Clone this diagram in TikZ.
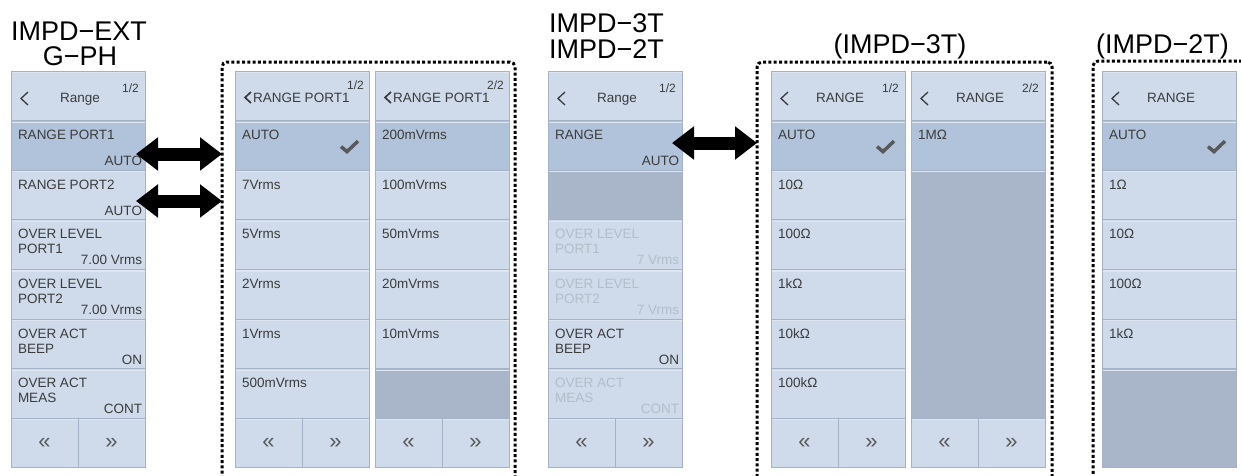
\documentclass[tikz,border=0pt]{standalone}
\usepackage{fontspec}
\setmainfont{Liberation Sans}
\usetikzlibrary{arrows.meta}
\definecolor{pl}{HTML}{CFDBEA}
\definecolor{ph}{HTML}{B1C3DA}
\definecolor{pd}{HTML}{A9B6CA}
\definecolor{pb}{HTML}{A3B2C6}
\definecolor{tx}{HTML}{3C3C3C}
\definecolor{tg}{HTML}{B3BDCA}
\definecolor{hl}{HTML}{DDE6F1}
\tikzset{
  rowbox/.style={draw=pb, line width=1pt, fill=pl, anchor=north west, minimum width=134pt, minimum height=49.6pt, inner sep=0pt, outer sep=0pt,
    path picture={\draw[hl, line width=1.2pt] ([yshift=-1.6pt]path picture bounding box.north west) -- ([yshift=-1.6pt]path picture bounding box.north east);}},
  hil/.style={fill=ph},
  drk/.style={fill=pd},
  btn/.style={rowbox, minimum width=67pt},
  lbl/.style={inner sep=0pt, outer sep=0pt, text=tx, font=\fontsize{13.5}{15}\selectfont},
  gry/.style={text=tg},
  pg/.style={inner sep=0pt, text=tx, font=\fontsize{12}{13}\selectfont, anchor=base east},
  big/.style={inner sep=0pt, text=black, font=\fontsize{27}{30}\selectfont},
  dotbox/.style={draw=black, line width=3pt, dash pattern=on 3pt off 2.3pt, rounded corners=5pt, anchor=north west, inner sep=0pt, outer sep=0pt},
  bigarrow/.style={line width=13pt, {Triangle[length=22pt,width=32pt]}-{Triangle[length=22pt,width=32pt]}},
  chev/.style={draw=tx, line width=1.3pt},
  chk/.style={draw=tx!85, line width=3.5pt},
  bt/.style={inner sep=0pt, text=tx!85, font=\fontsize{22}{24}\selectfont},
}
% row node: name, x, index, style
\newcommand\prow[4]{\node[rowbox,#4] (#1) at (#2,{71+49.6*#3}) {};}
\newcommand\plab[3][]{\node[lbl,anchor=base west,#1] at ([shift={(7,19)}]#2.north west) {#3};}
\newcommand\plabb[3][]{\node[lbl,anchor=base west,#1] at ([shift={(7,34)}]#2.north west) {#3};}
\newcommand\pval[3][]{\node[lbl,anchor=base east,#1] at ([shift={(-3,-4.5)}]#2.south east) {#3};}
\newcommand\pchk[1]{\draw[chk] ([shift={(-28,26)}]#1.north east) -- ([shift={(-22,31)}]#1.north east) -- ([shift={(-11,20.5)}]#1.north east);}
% header: name, x, title, page
\newcommand\phead[4]{%
  \node[rowbox] (#1) at (#2,71) {};
  \draw[chev] ([shift={(17,21)}]#1.north west) -- ([shift={(10,27.5)}]#1.north west) -- ([shift={(17,34)}]#1.north west);
  \node[lbl,anchor=base] at ([shift={(2,31)}]#1.north) {#3};
  \node[pg] at ([shift={(-6,21)}]#1.north east) {#4};}
% header of the RANGE PORT1 list: name, x, page
\newcommand\pheadb[3]{%
  \node[rowbox] (#1) at (#2,71) {};
  \draw[chev, line width=1.7pt] ([shift={(16,21)}]#1.north west) -- ([shift={(10,26.5)}]#1.north west) -- ([shift={(16,32)}]#1.north west);
  \node[lbl,anchor=base west] at ([shift={(18,31)}]#1.north west) {RANGE PORT1};
  \node[pg] at ([shift={(-5,18)}]#1.north east) {#3};}
% buttons: name, x
\newcommand\pbtn[2]{%
  \node[btn] (#1l) at (#2,{71+49.6*7}) {};
  \node[btn] (#1r) at (#2+67,{71+49.6*7}) {};
  \node[bt] at (#1l.center) {«};
  \node[bt] at (#1r.center) {»};}

\begin{document}
\begin{tikzpicture}[x=1pt,y=-1pt]
\useasboundingbox (0,0) rectangle (1241,475);
\clip (0,0) rectangle (1241,475);

% titles
\node[big, anchor=base] (t1) at (79,40) {IMPD−EXT};
\node[big, anchor=base] (t1b) at (80,65) {G−PH};
\node[big, anchor=base west] (t2) at (549,32) {IMPD−3T};
\node[big, anchor=base west] (t2b) at (549,58) {IMPD−2T};
\node[big, anchor=base] (t3) at (900,53) {(IMPD−3T)};
\node[big, anchor=base] (t4) at (1162.5,53) {(IMPD−2T)};

% dotted groups
\node[dotbox, minimum width=293pt, minimum height=430pt] (g1) at (222,62) {};
\node[dotbox, minimum width=295pt, minimum height=430pt] (g2) at (757,62) {};
\node[dotbox, minimum width=170pt, minimum height=430pt] (g3) at (1093,61) {};

% panel 1
\phead{p1h}{11}{Range}{1/2}
\prow{p1r1}{11}{1}{hil} \plab{p1r1}{RANGE PORT1} \pval{p1r1}{AUTO}
\prow{p1r2}{11}{2}{} \plab{p1r2}{RANGE PORT2} \pval{p1r2}{AUTO}
\prow{p1r3}{11}{3}{} \plab{p1r3}{OVER LEVEL} \plabb{p1r3}{PORT1} \pval{p1r3}{7.00 Vrms}
\prow{p1r4}{11}{4}{} \plab{p1r4}{OVER LEVEL} \plabb{p1r4}{PORT2} \pval{p1r4}{7.00 Vrms}
\prow{p1r5}{11}{5}{} \plab{p1r5}{OVER ACT} \plabb{p1r5}{BEEP} \pval{p1r5}{ON}
\prow{p1r6}{11}{6}{} \plab{p1r6}{OVER ACT} \plabb{p1r6}{MEAS} \pval{p1r6}{CONT}
\pbtn{p1b}{11}

% panel 2
\pheadb{p2h}{235}{1/2}
\prow{p2r1}{235}{1}{hil} \plab{p2r1}{AUTO} \pchk{p2r1}
\prow{p2r2}{235}{2}{} \plab{p2r2}{7Vrms}
\prow{p2r3}{235}{3}{} \plab{p2r3}{5Vrms}
\prow{p2r4}{235}{4}{} \plab{p2r4}{2Vrms}
\prow{p2r5}{235}{5}{} \plab{p2r5}{1Vrms}
\prow{p2r6}{235}{6}{} \plab{p2r6}{500mVrms}
\pbtn{p2b}{235}

% panel 3
\pheadb{p3h}{375}{2/2}
\prow{p3r1}{375}{1}{hil} \plab{p3r1}{200mVrms}
\prow{p3r2}{375}{2}{} \plab{p3r2}{100mVrms}
\prow{p3r3}{375}{3}{} \plab{p3r3}{50mVrms}
\prow{p3r4}{375}{4}{} \plab{p3r4}{20mVrms}
\prow{p3r5}{375}{5}{} \plab{p3r5}{10mVrms}
\prow{p3r6}{375}{6}{drk}
\pbtn{p3b}{375}

% panel 4
\phead{p4h}{548}{Range}{1/2}
\prow{p4r1}{548}{1}{hil} \plab{p4r1}{RANGE} \pval{p4r1}{AUTO}
\prow{p4r2}{548}{2}{drk}
\prow{p4r3}{548}{3}{} \plab[gry]{p4r3}{OVER LEVEL} \plabb[gry]{p4r3}{PORT1} \pval[gry]{p4r3}{7 Vrms}
\prow{p4r4}{548}{4}{} \plab[gry]{p4r4}{OVER LEVEL} \plabb[gry]{p4r4}{PORT2} \pval[gry]{p4r4}{7 Vrms}
\prow{p4r5}{548}{5}{} \plab{p4r5}{OVER ACT} \plabb{p4r5}{BEEP} \pval{p4r5}{ON}
\prow{p4r6}{548}{6}{} \plab[gry]{p4r6}{OVER ACT} \plabb[gry]{p4r6}{MEAS} \pval[gry]{p4r6}{CONT}
\pbtn{p4b}{548}

% panel 5
\phead{p5h}{771}{RANGE}{1/2}
\prow{p5r1}{771}{1}{hil} \plab{p5r1}{AUTO} \pchk{p5r1}
\prow{p5r2}{771}{2}{} \plab{p5r2}{10Ω}
\prow{p5r3}{771}{3}{} \plab{p5r3}{100Ω}
\prow{p5r4}{771}{4}{} \plab{p5r4}{1kΩ}
\prow{p5r5}{771}{5}{} \plab{p5r5}{10kΩ}
\prow{p5r6}{771}{6}{} \plab{p5r6}{100kΩ}
\pbtn{p5b}{771}

% panel 6
\phead{p6h}{911}{RANGE}{2/2}
\prow{p6r1}{911}{1}{hil} \plab{p6r1}{1MΩ}
\prow{p6r2}{911}{2}{drk, minimum height=248pt}
\pbtn{p6b}{911}

% panel 7
\phead{p7h}{1102}{RANGE}{}
\prow{p7r1}{1102}{1}{hil} \plab{p7r1}{AUTO} \pchk{p7r1}
\prow{p7r2}{1102}{2}{} \plab{p7r2}{1Ω}
\prow{p7r3}{1102}{3}{} \plab{p7r3}{10Ω}
\prow{p7r4}{1102}{4}{} \plab{p7r4}{100Ω}
\prow{p7r5}{1102}{5}{} \plab{p7r5}{1kΩ}
\prow{p7r6}{1102}{6}{drk, minimum height=99.2pt}

% arrows
\coordinate (a1l) at ([xshift=-9pt,yshift=-8.6pt]p1r1.east);
\coordinate (a1r) at (g1.west |- a1l);
\coordinate (a2l) at ([xshift=-9pt,yshift=-6pt]p1r2.east);
\coordinate (a2r) at (g1.west |- a2l);
\coordinate (a3l) at ([xshift=-10pt,yshift=2.4pt]p4r1.east);
\coordinate (a3r) at (g2.west |- a3l);
\draw[bigarrow] (a1l) -- (a1r);
\draw[bigarrow] (a2l) -- (a2r);
\draw[bigarrow] (a3l) -- (a3r);
\end{tikzpicture}
\end{document}
